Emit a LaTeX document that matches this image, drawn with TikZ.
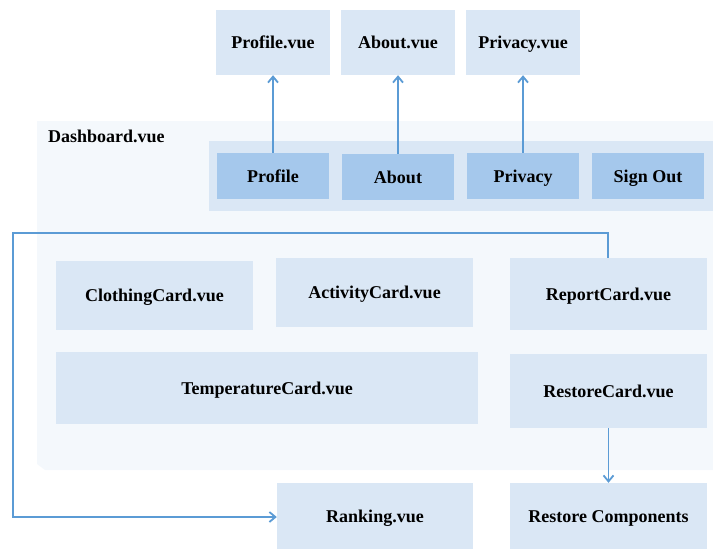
\documentclass[tikz,border=0pt]{standalone}
\usepackage{fontspec}
\setmainfont{Liberation Serif}
\usetikzlibrary{arrows.meta}
\definecolor{cardfill}{HTML}{DAE7F5}
\definecolor{dashfill}{HTML}{F4F8FC}
\definecolor{btnfill}{HTML}{A5C8EC}
\definecolor{linkcol}{HTML}{5B9BD5}
\begin{document}
\begin{tikzpicture}[x=1pt,y=-1pt,
  txt/.style={font=\bfseries\fontsize{18}{20}\selectfont,text height=13pt,text depth=0.5pt},
  box/.style={txt,fill=cardfill,draw=none,inner sep=0pt},
  btn/.style={txt,fill=btnfill,draw=none,inner sep=0pt},
  link/.style={draw=linkcol,line width=1.8pt,-{Straight Barb[length=6pt,width=10pt,line width=1.8pt]}}]
\useasboundingbox (0,0) rectangle (713,549);
% dashboard container
\fill[dashfill] (37,121) -- (713,121) -- (713,470) -- (45,470) -- (37,464) -- cycle;
\node[anchor=north west,inner sep=0pt,font=\bfseries\fontsize{18}{20}\selectfont] (dash) at (48,130) {Dashboard.vue};
\fill[cardfill] (209,141) rectangle (713,211);
% pages
\node[box,minimum width=114pt,minimum height=65pt] (pv) at (273,42.5) {Profile.vue};
\node[box,minimum width=114pt,minimum height=65pt] (av) at (398,42.5) {About.vue};
\node[box,minimum width=114pt,minimum height=65pt] (prv) at (523,42.5) {Privacy.vue};
% buttons
\node[btn,minimum width=112pt,minimum height=46pt] (pb) at (273,176) {Profile};
\node[btn,minimum width=112pt,minimum height=46pt] (ab) at (398,177) {About};
\node[btn,minimum width=112pt,minimum height=46pt] (prb) at (523,176) {Privacy};
\node[btn,minimum width=112pt,minimum height=46pt] (sb) at (648,176) {Sign Out};
% cards
\node[box,minimum width=197pt,minimum height=69pt] (cloth) at (154.5,295.5) {ClothingCard.vue};
\node[box,minimum width=197pt,minimum height=69pt] (act) at (374.5,292.5) {ActivityCard.vue};
\node[box,minimum width=197pt,minimum height=72pt] (rep) at (608.5,294) {ReportCard.vue};
\node[box,minimum width=422pt,minimum height=72pt] (temp) at (267,388) {TemperatureCard.vue};
\node[box,minimum width=197pt,minimum height=74pt] (rest) at (608.5,391) {RestoreCard.vue};
\node[box,minimum width=196pt,minimum height=66pt] (rank) at (375,516) {Ranking.vue};
\node[box,minimum width=197pt,minimum height=66pt] (rc) at (608.5,516) {Restore Components};
% connectors
\draw[link] (pb.north) -- (pv.south);
\draw[link] (ab.north) -- (av.south);
\draw[link] (prb.north) -- (prv.south);
\coordinate (c1) at (608,233);
\coordinate (c2) at (13,233);
\coordinate (c3) at (13,517);
\draw[link] (rep.north -| c1) -- (c1) -- (c2) -- (c3) -- (c3 -| rank.west);
\draw[link] (rest.south) -- (rc.north);
\end{tikzpicture}
\end{document}
